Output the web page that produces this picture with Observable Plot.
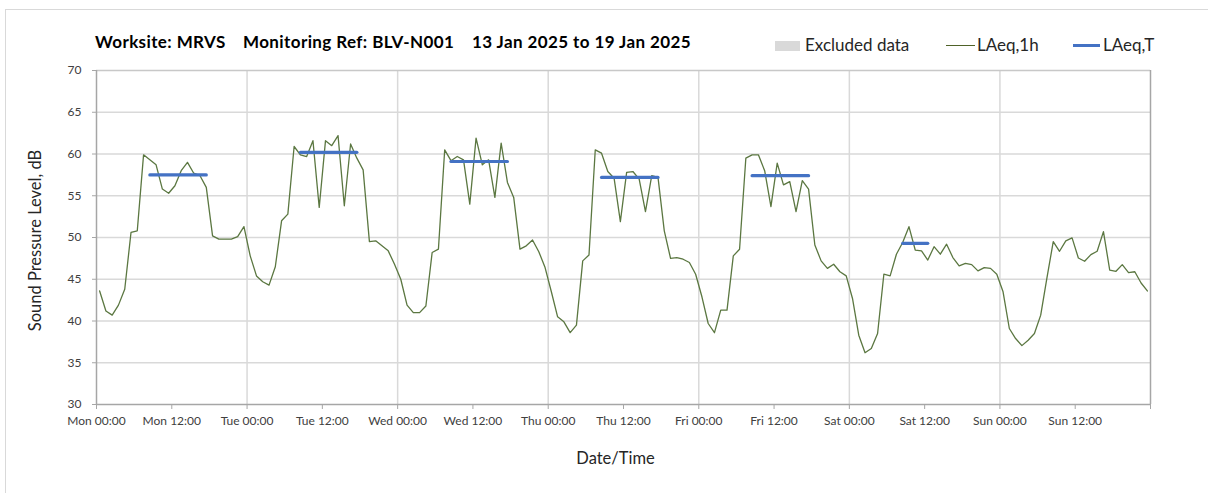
<!DOCTYPE html>
<html><head><meta charset="utf-8">
<script src="https://cdn.jsdelivr.net/npm/d3@7"></script>
<script src="https://cdn.jsdelivr.net/npm/@observablehq/plot@0.6"></script>
<style>
body{margin:0;background:#fff;font-family:Lato,"Open Sans",sans-serif;}
#wrap{position:relative;width:1208px;height:493px;overflow:hidden;background:#fff;}
#border{position:absolute;left:5px;top:9px;width:1400px;height:700px;border-left:1px solid #d9d9d9;border-top:1px solid #d9d9d9;}
#chart{position:absolute;left:0;top:0;}
.t{position:absolute;top:32px;font-weight:bold;font-size:17px;letter-spacing:0.4px;color:#000;white-space:nowrap;line-height:20px;}
.lg{position:absolute;top:35px;font-size:17px;color:#262626;white-space:nowrap;line-height:20px;}
.sw{position:absolute;}
</style>
</head><body>
<div id="wrap">
  <div id="border"></div>
  <div id="chart"></div>
  <div class="t" style="left:95px">Worksite: MRVS</div>
  <div class="t" style="left:243px">Monitoring Ref: BLV-N001</div>
  <div class="t" style="left:472px">13 Jan 2025 to 19 Jan 2025</div>
  <div class="sw" style="left:775px;top:41px;width:25px;height:10px;background:#d9d9d9"></div>
  <div class="lg" style="left:805px">Excluded data</div>
  <div class="sw" style="left:946px;top:45px;width:29px;height:1px;background:#4f6228"></div>
  <div class="lg" style="left:977px">LAeq,1h</div>
  <div class="sw" style="left:1073px;top:44px;width:27px;height:3px;background:#4472c4"></div>
  <div class="lg" style="left:1103px">LAeq,T</div>
</div>
<script>
// Hourly LAeq,1h values, Mon 00:00 .. Sun 23:00 (one per hour)
const laeq1h = [
 43.6,41.2,40.7,41.9,43.8,50.6,50.8,59.9,59.3,58.7,55.8,55.3,56.2,58.0,59.0,57.7,57.4,56.0,50.2,49.8,49.8,49.8,50.1,51.3,
 47.8,45.4,44.7,44.3,46.5,52.0,52.8,60.9,59.9,59.7,61.6,53.6,61.6,61.0,62.2,53.8,61.2,59.5,58.1,49.5,49.6,49.0,48.4,46.8,
 45.0,41.9,41.0,41.0,41.8,48.2,48.6,60.5,59.2,59.7,59.3,54.0,61.9,58.7,59.3,54.8,61.3,56.6,54.8,48.6,49.0,49.7,48.3,46.4,
 43.5,40.5,39.9,38.6,39.5,47.2,47.9,60.5,60.1,57.9,57.1,51.9,57.8,57.9,57.0,53.1,57.4,57.2,50.8,47.5,47.6,47.4,47.0,45.6,
 42.9,39.7,38.6,41.3,41.3,47.8,48.6,59.5,59.9,59.9,58.0,53.7,58.9,56.3,56.7,53.1,56.8,55.8,49.1,47.2,46.3,46.8,45.9,45.4,
 42.7,38.3,36.2,36.7,38.5,45.6,45.4,48.0,49.4,51.3,48.5,48.4,47.3,48.9,48.0,49.2,47.6,46.6,46.9,46.75,46.0,46.4,46.3,45.6,
 43.5,39.1,37.9,37.05,37.7,38.5,40.7,45.2,49.5,48.35,49.6,49.95,47.55,47.15,47.95,48.35,50.7,46.1,45.95,46.75,45.8,45.9,44.55,43.6
];
// LAeq,T periods (hours from Mon 00:00)
const laeqTDays   = ["Mon","Tue","Wed","Thu","Fri","Sat"];
const laeqTStart  = [8.5, 32.5, 56.5, 80.5, 104.5, 128.5];
const laeqTEnd    = [17.5, 41.5, 65.5, 89.5, 113.5, 132.5];
const laeqTValues = [57.5, 60.2, 59.1, 57.2, 57.4, 49.3];
// Axis ticks
const xTickHours  = [0,12,24,36,48,60,72,84,96,108,120,132,144,156,168];
const xTickLabels = ["Mon 00:00","Mon 12:00","Tue 00:00","Tue 12:00","Wed 00:00","Wed 12:00","Thu 00:00","Thu 12:00","Fri 00:00","Fri 12:00","Sat 00:00","Sat 12:00","Sun 00:00","Sun 12:00",""];
const dayGridHours = [24,48,72,96,120,144];
const yTicks = [30,35,40,45,50,55,60,65,70];
const yLabel = "Sound Pressure Level, dB";
const xLabel = "Date/Time";

const hourly = laeq1h.map((v,i)=>({h:i+0.5, v}));
const laeqT = laeqTDays.map((d,i)=>({d, s:laeqTStart[i], e:laeqTEnd[i], v:laeqTValues[i]}));
const labelOf = new Map(xTickHours.map((h,i)=>[h, xTickLabels[i]]));

const chart = Plot.plot({
  width:1208, height:493,
  marginLeft:96, marginRight:58, marginTop:70, marginBottom:89,
  style:{fontFamily:"Lato, 'Open Sans', sans-serif", fontSize:"12px", background:"transparent"},
  x:{domain:[0,168]},
  y:{domain:[30,70]},
  marks:[
    Plot.ruleY(yTicks.filter(t=>t>30 && t<70), {stroke:"#d9d9d9", strokeWidth:1.5}),
    Plot.ruleX(dayGridHours, {stroke:"#d9d9d9", strokeWidth:1.5}),
    Plot.ruleY([70], {stroke:"#c8c8c8", strokeWidth:1.5}),
    Plot.ruleX([168], {stroke:"#a6a6a6", strokeWidth:1.5}),
    Plot.line(hourly, {x:"h", y:"v", stroke:"#5b7741", strokeWidth:1.3}),
    Plot.link(laeqT, {x1:"s", x2:"e", y1:"v", y2:"v", stroke:"#4472c4", strokeWidth:3.2, strokeLinecap:"round"}),
    Plot.ruleX([0], {stroke:"#a6a6a6", strokeWidth:1.5}),
    Plot.ruleY([30], {stroke:"#a6a6a6", strokeWidth:1.5}),
    Plot.axisY({ticks:yTicks, tickSize:4, tickPadding:11, stroke:"#a6a6a6", fill:"#404040", label:null, fontSize:12}),
    Plot.axisX({ticks:xTickHours, tickFormat:d=>labelOf.get(d), tickSize:5, tickPadding:7, stroke:"#a6a6a6", fill:"#404040", label:null, fontSize:12}),
    Plot.text([yLabel], {frameAnchor:"left", dx:-61, dy:3, rotate:-90, textAnchor:"middle", text:d=>d, fontSize:16.5, fill:"#262626"}),
    Plot.text([xLabel], {frameAnchor:"bottom", dx:-8, dy:59, text:d=>d, fontSize:16.5, fill:"#262626"})
  ]
});
document.getElementById("chart").appendChild(chart);
</script>
</body></html>
